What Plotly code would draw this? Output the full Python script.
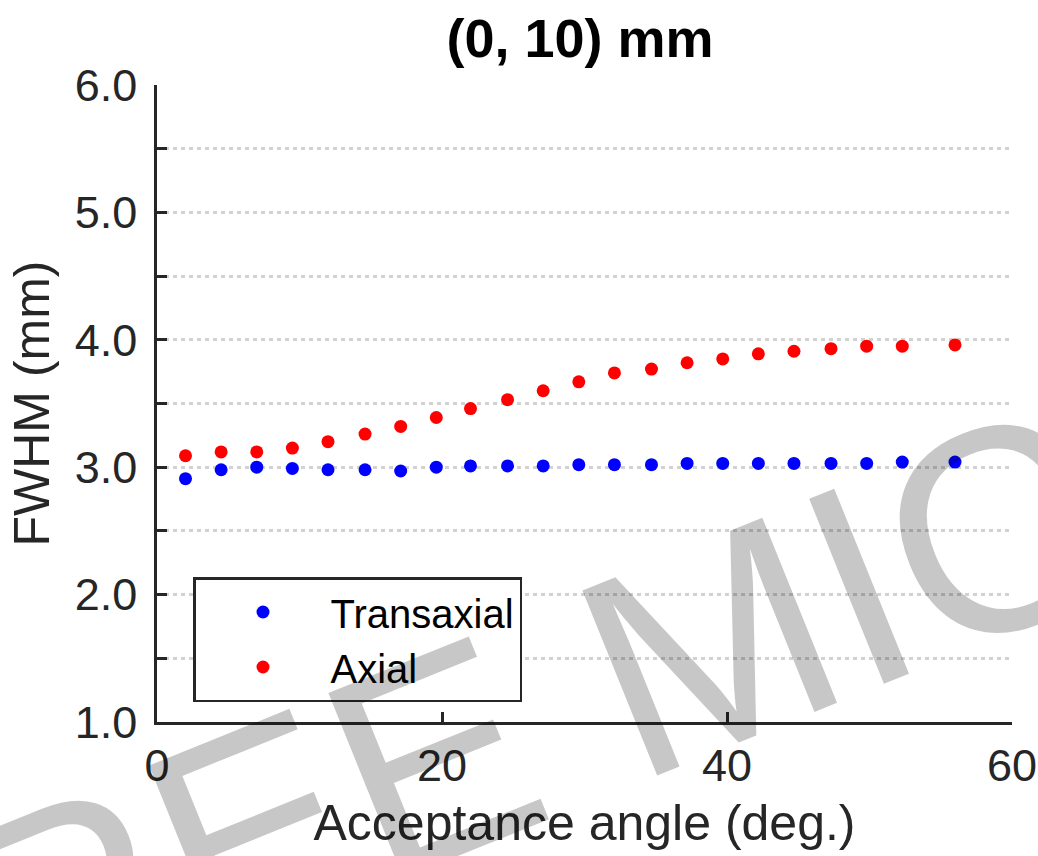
import plotly.graph_objects as go

# ---- data ----
angle_deg = [2.0, 4.5, 7.0, 9.5, 12.0, 14.6, 17.1, 19.6, 22.0, 24.6, 27.1,
             29.6, 32.1, 34.7, 37.2, 39.7, 42.2, 44.7, 47.3, 49.8, 52.3, 56.0]
fwhm_transaxial = [2.91, 2.98, 3.00, 2.99, 2.98, 2.98, 2.97, 3.00, 3.01, 3.01, 3.01,
                   3.02, 3.02, 3.02, 3.03, 3.03, 3.03, 3.03, 3.03, 3.03, 3.04, 3.04]
fwhm_axial = [3.09, 3.12, 3.12, 3.15, 3.20, 3.26, 3.32, 3.39, 3.46, 3.53, 3.60,
              3.67, 3.74, 3.77, 3.82, 3.85, 3.89, 3.91, 3.93, 3.95, 3.95, 3.96]
series_names = ["Transaxial", "Axial"]
series_colors = ["#0000ff", "#ff0000"]
y_tick_vals = [1.0, 1.5, 2.0, 2.5, 3.0, 3.5, 4.0, 4.5, 5.0, 5.5, 6.0]
y_tick_text = ["1.0", "", "2.0", "", "3.0", "", "4.0", "", "5.0", "", "6.0"]
x_tick_vals = [0, 20, 40, 60]
title_text = "(0, 10) mm"
x_title = "Acceptance angle (deg.)"
y_title = "FWHM (mm)"
watermark = "FREE MIC"

FONT = "Liberation Sans, Arial, Helvetica, sans-serif"
DARK = "#262626"

W, H = 1038, 856
L, R, T, B = 157, 26, 85, 134

fig = go.Figure()
for name, ys, col in zip(series_names, [fwhm_transaxial, fwhm_axial], series_colors):
    fig.add_trace(go.Scatter(
        x=angle_deg, y=ys, mode="markers", name=name,
        marker=dict(color=col, size=13, line=dict(width=0)),
    ))

fig.update_layout(
    width=W, height=H,
    margin=dict(l=L, r=R, t=T, b=B, autoexpand=False),
    paper_bgcolor="white", plot_bgcolor="white",
    font=dict(family=FONT, color=DARK, size=45),
    title=dict(text="<b>" + title_text + "</b>", font=dict(family=FONT, size=54, color="black"),
               x=580 / W, xref="container", xanchor="center",
               y=1 - 38 / H, yref="container", yanchor="middle"),
    showlegend=True,
    legend=dict(x=(193 - 157) / 855, y=(722 - 577) / 637, xanchor="left", yanchor="top",
                bgcolor="white", bordercolor=DARK, borderwidth=2.5,
                font=dict(family=FONT, size=40, color="black"),
                itemwidth=125, tracegroupgap=0),
    xaxis=dict(range=[0, 60], tickvals=x_tick_vals, ticks="inside", ticklen=10,
               tickwidth=2.5, tickcolor=DARK, showgrid=False, zeroline=False,
               showline=True, linecolor=DARK, linewidth=2.5, mirror=False,
               tickfont=dict(size=45, color=DARK), ticklabelstandoff=2,
               ticklabeloverflow="allow",
               title=dict(text=x_title, font=dict(size=50, color=DARK), standoff=16),
               automargin=False),
    yaxis=dict(range=[1, 6], tickvals=y_tick_vals, ticktext=y_tick_text,
               ticks="inside", ticklen=10, tickwidth=2.5, tickcolor=DARK,
               showgrid=True, gridcolor="#d2d2d2", gridwidth=2.5, griddash="4px,4px",
               zeroline=False, showline=True, linecolor=DARK, linewidth=2.5,
               tickfont=dict(size=45, color=DARK), ticklabelstandoff=8,
               title=dict(text=y_title, font=dict(size=50, color=DARK), standoff=10),
               automargin=False),
)

fig.add_annotation(
    text=watermark, xref="paper", yref="paper",
    x=0.3404, y=-0.0455, xanchor="center", yanchor="middle",
    showarrow=False, textangle=-22,
    font=dict(family=FONT, size=290, color="rgba(0,0,0,0.22)"),
)

# remove the page's default 8px body margin so the figure fills the window
fig.write_html("out.html", config={"displayModeBar": False},
               post_script="document.body.style.margin='0';")
